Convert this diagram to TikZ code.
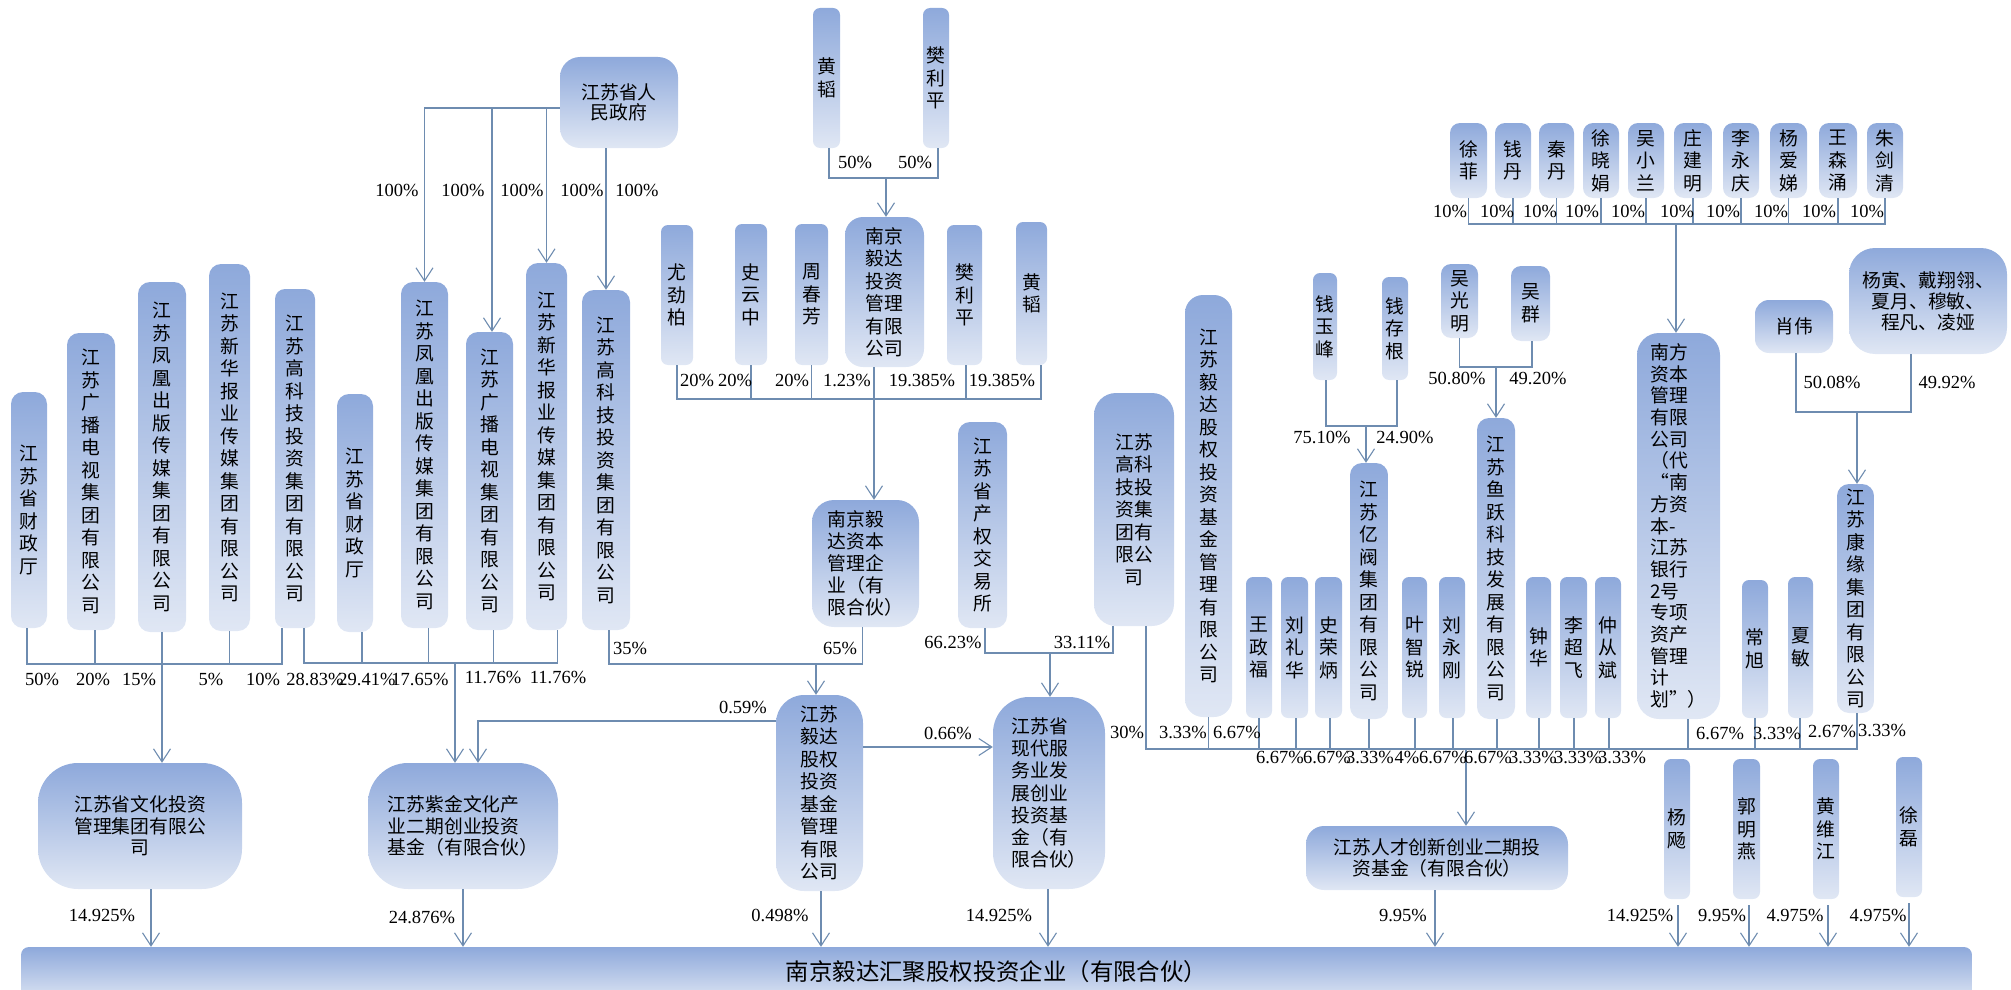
\documentclass[tikz,border=0pt]{standalone}
\usepackage{fontspec}
\usetikzlibrary{arrows.meta}
\newfontfamily\cjk{Noto Sans CJK SC}
\newfontfamily\pctf{Liberation Serif}
\definecolor{boxtop}{RGB}{142,169,219}
\definecolor{boxbot}{RGB}{224,231,244}
\definecolor{lnc}{RGB}{110,140,176}
% one character per line
\makeatletter
\def\vt@loop#1{\gdef\vt@out{}\@tfor\vt@c:=#1\do{\ifx\vt@out\@empty\xdef\vt@out{\vt@c}\else
  \xdef\vt@out{\unexpanded\expandafter{\vt@out}\noexpand\\\vt@c}\fi}\vt@out}
\newcommand\vt[1]{\edef\vt@arg{#1}\expandafter\vt@loop\expandafter{\vt@arg}}
\makeatother
\tikzset{
  box/.style={rounded corners=12pt,top color=boxtop,bottom color=boxbot,draw=none,
    inner sep=0pt,align=center,font=\cjk\fontsize{18.8}{22.5}\selectfont},
  pers/.style={box,rounded corners=7pt},
  pct/.style={inner sep=0pt,font=\pctf\fontsize{18.5}{20}\selectfont},
  ln/.style={draw=lnc,line width=1.1pt},
  arr/.style={ln,-{Straight Barb[length=13pt,width=17pt]}}
}
\begin{document}
\begin{tikzpicture}[x=1pt,y=-1pt]
\useasboundingbox (0,0) rectangle (2011,990);
%% province and its companies
\node[box,rounded corners=20pt,minimum width=118pt,minimum height=91pt,font=\cjk\fontsize{18.8}{20.5}\selectfont] (szf) at (619,102.5) {江苏省人\\民政府};
\node[box,minimum width=36pt,minimum height=236pt] (czt1) at (29,510) {\vt{江苏省财政厅}};
\node[box,minimum width=48pt,minimum height=297pt] (gb1) at (91,481.5) {\vt{江苏广播电视集团有限公司}};
\node[box,minimum width=48pt,minimum height=350pt] (fh1) at (162,457) {\vt{江苏凤凰出版传媒集团有限公司}};
\node[box,minimum width=41pt,minimum height=367pt] (xh1) at (229.5,447.5) {\vt{江苏新华报业传媒集团有限公司}};
\node[box,rounded corners=10pt,minimum width=40pt,minimum height=339pt] (gk1) at (295,458.5) {\vt{江苏高科技投资集团有限公司}};
\node[box,minimum width=36pt,minimum height=238pt] (czt2) at (355,513) {\vt{江苏省财政厅}};
\node[box,minimum width=47pt,minimum height=346pt] (fh2) at (424.5,455) {\vt{江苏凤凰出版传媒集团有限公司}};
\node[box,minimum width=47pt,minimum height=298pt] (gb2) at (489.5,481) {\vt{江苏广播电视集团有限公司}};
\node[box,minimum width=41pt,minimum height=367pt] (xh2) at (546.5,446.5) {\vt{江苏新华报业传媒集团有限公司}};
\node[box,minimum width=48pt,minimum height=340pt] (gk2) at (606,460) {\vt{江苏高科技投资集团有限公司}};
%% yida side
\node[pers,minimum width=27pt,minimum height=140pt] (ht1) at (826.5,78) {\vt{黄韬}};
\node[pers,minimum width=26pt,minimum height=140pt] (flp1) at (936,78) {\vt{樊利平}};
\node[pers,minimum width=32pt,minimum height=140pt] (yjb) at (677,295) {\vt{尤劲柏}};
\node[pers,minimum width=32pt,minimum height=141pt] (syz) at (751,294.5) {\vt{史云中}};
\node[pers,minimum width=33pt,minimum height=141pt] (zcf) at (811.5,294.5) {\vt{周春芳}};
\node[box,rounded corners=18pt,minimum width=79pt,minimum height=150pt] (ydtz) at (884.5,292) {南京\\毅达\\投资\\管理\\有限\\公司};
\node[pers,minimum width=35pt,minimum height=140pt] (flp2) at (964.5,295) {\vt{樊利平}};
\node[pers,minimum width=31pt,minimum height=143pt] (ht2) at (1031.5,293.5) {\vt{黄韬}};
\node[box,rounded corners=22pt,align=left,minimum width=107pt,minimum height=127pt,font=\cjk\fontsize{18.8}{22}\selectfont] (ydzb) at (865.5,563.5) {南京毅\\达资本\\管理企\\业（有\\限合伙）};
\node[box,minimum width=49pt,minimum height=206pt] (cqjys) at (982.5,525) {\vt{江苏省产权交易所}};
\node[box,rounded corners=22pt,minimum width=80pt,minimum height=233pt] (gk3) at (1134,509.5) {江苏\\高科\\技投\\资集\\团有\\限公\\司};
\node[box,rounded corners=18pt,minimum width=47pt,minimum height=422pt] (ydgq) at (1208.5,506) {\vt{江苏毅达股权投资基金管理有限公司}};
%% funds
\node[box,rounded corners=40pt,minimum width=204pt,minimum height=126pt,font=\cjk\fontsize{18.8}{21.7}\selectfont] (whtz) at (140,826) {江苏省文化投资\\管理集团有限公\\司};
\node[box,rounded corners=40pt,align=left,minimum width=190pt,minimum height=126pt,font=\cjk\fontsize{18.8}{21.7}\selectfont] (zjjj) at (463,826) {江苏紫金文化产\\业二期创业投资\\基金（有限合伙）};
\node[box,rounded corners=28pt,minimum width=87pt,minimum height=196pt] (ydjj) at (819.5,793) {江苏\\毅达\\股权\\投资\\基金\\管理\\有限\\公司};
\node[box,rounded corners=36pt,align=left,minimum width=112pt,minimum height=192pt,font=\cjk\fontsize{18.8}{22.3}\selectfont] (xdfw) at (1049,793) {江苏省\\现代服\\务业发\\展创业\\投资基\\金（有\\限合伙）};
\node[box,rounded corners=18pt,minimum width=262pt,minimum height=64pt,font=\cjk\fontsize{18.8}{21}\selectfont] (rcjj) at (1437,858) {江苏人才创新创业二期投\\资基金（有限合伙）};
\node[box,rounded corners=8pt,minimum width=1951pt,minimum height=50pt,bottom color=boxbot!90!boxtop,font=\cjk\fontsize{23.4}{26}\selectfont] (hj) at (996.5,972) {南京毅达汇聚股权投资企业（有限合伙）};
%% right side
\node[pers,minimum width=24pt,minimum height=107pt] (qyf) at (1325,326.5) {\vt{钱玉峰}};
\node[pers,minimum width=26pt,minimum height=103pt] (qcg) at (1395,328.5) {\vt{钱存根}};
\node[pers,rounded corners=10pt,minimum width=37pt,minimum height=74pt] (wgm) at (1459.5,301) {\vt{吴光明}};
\node[pers,rounded corners=10pt,minimum width=39pt,minimum height=75pt] (wq) at (1530.5,303.5) {\vt{吴群}};
\node[box,minimum width=38pt,minimum height=256pt] (yifa) at (1369,591) {\vt{江苏亿阀集团有限公司}};
\node[box,minimum width=38pt,minimum height=301pt] (yuyue) at (1496,568.5) {\vt{江苏鱼跃科技发展有限公司}};
\node[pers,minimum width=26pt,minimum height=141pt] (wzf) at (1259,647.5) {\vt{王政福}};
\node[pers,minimum width=27pt,minimum height=141pt] (llh) at (1294.5,647.5) {\vt{刘礼华}};
\node[pers,minimum width=27pt,minimum height=141pt] (srb) at (1328.5,647.5) {\vt{史荣炳}};
\node[pers,minimum width=25pt,minimum height=141pt] (yzr) at (1414.5,647.5) {\vt{叶智锐}};
\node[pers,minimum width=26pt,minimum height=141pt] (lyg) at (1452,647.5) {\vt{刘永刚}};
\node[pers,minimum width=25pt,minimum height=141pt] (zhh) at (1538.5,647.5) {\vt{钟华}};
\node[pers,minimum width=27pt,minimum height=141pt] (lcf) at (1573.5,647.5) {\vt{李超飞}};
\node[pers,minimum width=26pt,minimum height=141pt] (zcb) at (1608,647.5) {\vt{仲从斌}};
\node[pers,minimum width=26pt,minimum height=138pt] (chx) at (1755,649) {\vt{常旭}};
\node[pers,minimum width=25pt,minimum height=141pt] (xmi) at (1800.5,647.5) {\vt{夏敏}};
\node[box,rounded corners=22pt,align=left,minimum width=83pt,minimum height=386pt,font=\cjk\fontsize{18.8}{21.7}\selectfont] (nfzb) at (1678.5,526) {南方\\资本\\管理\\有限\\公司\\（代\\“南\\方资\\本-\\江苏\\银行\\2号\\专项\\资产\\管理\\计\\划”）};
\foreach \n/\x/\w/\t in {xf/1468.5/37/徐菲,qd/1513/36/钱丹,qind/1556.5/35/秦丹,xxj/1601/36/徐晓娟,
    wxl/1646/36/吴小兰,zjm/1693/38/庄建明,lyq/1741/36/李永庆,yad/1788.5/37/杨爱娣,
    wsy/1838/38/王森涌,zjq/1885/36/朱剑清}
  \node[pers,rounded corners=10pt,minimum width=\w pt,minimum height=75pt] (\n) at (\x,160.5) {\vt{\t}};
\node[box,rounded corners=14pt,minimum width=78pt,minimum height=53pt] (xw) at (1794,326.5) {肖伟};
\node[box,rounded corners=26pt,minimum width=158pt,minimum height=106pt,font=\cjk\fontsize{18.8}{21}\selectfont] (yyg) at (1928,301) {杨寅、戴翔翎、\\夏月、穆敏、\\程凡、凌娅};
\node[box,minimum width=37pt,minimum height=229pt] (kyjt) at (1855.5,598.5) {\vt{江苏康缘集团有限公司}};
\node[pers,minimum width=26pt,minimum height=140pt] (yangy) at (1677,829) {\vt{杨飏}};
\node[pers,minimum width=27pt,minimum height=140pt] (gmy) at (1746.5,829) {\vt{郭明燕}};
\node[pers,minimum width=26pt,minimum height=140pt] (hwj) at (1826,829) {\vt{黄维江}};
\node[pers,minimum width=26pt,minimum height=140pt] (xl) at (1909,827) {\vt{徐磊}};
%% bus points
\coordinate (lb) at (162,664);
\coordinate (zb) at (455,663);
\coordinate (yb) at (816,664);
\coordinate (mb) at (874,399);
\coordinate (tb) at (886,178);
\coordinate (cb) at (1050,653);
\coordinate (rb) at (1466,749);
\coordinate (qb) at (1366,426);
\coordinate (wb) at (1496,367);
\coordinate (nb) at (1676,224);
\coordinate (kb) at (1857,412);
%% connectors
\draw[arr] ([yshift=-5.5pt]szf.west) -| (fh2.north);
\draw[arr] ([yshift=-5.5pt]szf.west) -| ([xshift=2.5pt]gb2.north);
\draw[arr] ([yshift=-5.5pt]szf.west) -| (xh2.north);
\draw[arr] (gk2.north |- szf.south) -- (gk2.north);
\draw[ln] ([xshift=-2pt]czt1.south) |- (lb);
\draw[ln] ([xshift=4pt]gb1.south) |- (lb);
\draw[ln] (fh1.south) |- (lb);
\draw[ln] (xh1.south) |- (lb);
\draw[ln] ([xshift=-13pt]gk1.south) |- (lb);
\draw[arr] (lb) -- (lb |- whtz.north);
\draw[ln] ([xshift=9pt]gk1.south) |- (zb);
\draw[ln] ([xshift=7pt]czt2.south) |- (zb);
\draw[ln] ([xshift=4pt]fh2.south) |- (zb);
\draw[ln] ([xshift=4pt]gb2.south) |- (zb);
\draw[ln] ([xshift=11pt]xh2.south) |- (zb);
\draw[arr] (zb) -- (zb |- zjjj.north);
\draw[ln] ([xshift=3pt]gk2.south) |- (yb);
\draw[ln] ([xshift=-3pt]ydzb.south) |- (yb);
\draw[arr] (yb) -- (yb |- ydjj.north);
\draw[ln] ([xshift=2.5pt]ht1.south) |- (tb);
\draw[ln] ([xshift=2pt]flp1.south) |- (tb);
\draw[arr] (tb) -- (tb |- ydtz.north);
\draw[ln] (yjb.south) |- (mb);
\draw[ln] (syz.south) |- (mb);
\draw[ln] (zcf.south) |- (mb);
\draw[ln] ([xshift=-10.5pt]ydtz.south) |- (mb);
\draw[ln] ([xshift=1.5pt]flp2.south) |- (mb);
\draw[ln] ([xshift=9.5pt]ht2.south) |- (mb);
\draw[arr] (mb) -- (mb |- ydzb.north);
\draw[ln] ([xshift=2.5pt]cqjys.south) |- (cb);
\draw[ln] ([xshift=-21pt]gk3.south) |- (cb);
\draw[arr] (cb) -- (cb |- xdfw.north);
\draw[arr] ([yshift=72pt]ydjj.west) -| ([xshift=15pt]zjjj.north);
\draw[arr] ([yshift=46pt]ydjj.east) -- ([yshift=46pt]ydjj.east -| xdfw.west);
\foreach \n/\s in {gk3/12,ydgq/0,wzf/0,llh/1.5,srb/1.5,yifa/0,yzr/0.5,lyg/1,yuyue/1,
    zhh/0.5,lcf/0.5,zcb/1,nfzb/9.5,chx/0,xmi/-0.5,kyjt/1.5}
  \draw[ln] ([xshift=\s pt]\n.south) |- (rb);
\draw[arr] (rb) -- (rb |- rcjj.north);
\draw[ln] ([xshift=1pt]qyf.south) |- (qb);
\draw[ln] ([xshift=2pt]qcg.south) |- (qb);
\draw[arr] (qb) -- (qb |- yifa.north);
\draw[ln] (wgm.south) |- (wb);
\draw[ln] ([xshift=1.5pt]wq.south) |- (wb);
\draw[arr] (wb) -- (wb |- yuyue.north);
\foreach \n in {xf,qd,qind,xxj,wxl,zjm,lyq,yad,wsy,zjq}
  \draw[ln] (\n.south) |- (nb);
\draw[arr] (nb) -- (nb |- nfzb.north);
\draw[ln] ([xshift=2pt]xw.south) |- (kb);
\draw[ln] ([xshift=-17pt]yyg.south) |- (kb);
\draw[arr] (kb) -- (kb |- kyjt.north);
%% into the fund
\draw[arr] ([xshift=11pt]whtz.south) -- ([xshift=11pt]whtz.south |- hj.north);
\draw[arr] (zjjj.south) -- (zjjj.south |- hj.north);
\draw[arr] ([xshift=1.5pt]ydjj.south) -- ([xshift=1.5pt]ydjj.south |- hj.north);
\draw[arr] ([xshift=-1pt]xdfw.south) -- ([xshift=-1pt]xdfw.south |- hj.north);
\draw[arr] ([xshift=-2pt]rcjj.south) -- ([xshift=-2pt]rcjj.south |- hj.north);
\foreach \n/\s in {yangy/1,gmy/2.5,hwj/2,xl/0}
  \draw[arr] ([xshift=\s pt,yshift=-6pt]\n.south) -- ([xshift=\s pt]\n.south |- hj.north);
%% percentages
\foreach \px/\py/\pv [count=\i] in {397/190/100,463/190/100,522/190/100,582/190/100,637/190/100,
    855/162/50,915/162/50,697/380/20,735/380/20,792/380/20,847/380/1.23,922/380/19.385,1002/380/19.385}
  \node[pct] (pa\i) at (\px,\py) {\pv\%};
\foreach \px/\py/\pv [count=\i] in {42/679/50,93/679/20,139/679/15,211/679/5,263/679/10,
    315/679/28.83,367/679/29.41,420/679/17.65,493/677/11.76,558/677/11.76,
    630/648/35,840/648/65,953/642/66.23,1082/642/33.11,743/707/0.59,948/733/0.66}
  \node[pct] (pb\i) at (\px,\py) {\pv\%};
\foreach \px/\py/\pv [count=\i] in {102/915/14.925,422/917/24.876,780/915/0.498,999/915/14.925,
    1403/915/9.95,1640/915/14.925,1722/915/9.95,1795/915/4.975,1878/915/4.975}
  \node[pct] (pc\i) at (\px,\py) {\pv\%};
\foreach \px/\py/\pv [count=\i] in {1127/732/30,1183/732/3.33,1237/732/6.67,1720/733/6.67,
    1777/733/3.33,1832/731/2.67,1882/730/3.33,1280/757/6.67,1327/757/6.67,1370/757/3.33,
    1407/757/4,1443/757/6.67,1488/757/6.67,1533/757/3.33,1578/757/3.33,1622/757/3.33}
  \node[pct] (pd\i) at (\px,\py) {\pv\%};
\foreach \px/\py/\pv [count=\i] in {1322/437/75.10,1405/437/24.90,1457/378/50.80,1538/378/49.20,
    1832/382/50.08,1947/382/49.92}
  \node[pct] (pe\i) at (\px,\py) {\pv\%};
\foreach \px [count=\i] in {1450,1497,1540,1582,1628,1677,1723,1771,1819,1867}
  \node[pct] (pf\i) at (\px,211) {10\%};
\end{tikzpicture}
\end{document}
